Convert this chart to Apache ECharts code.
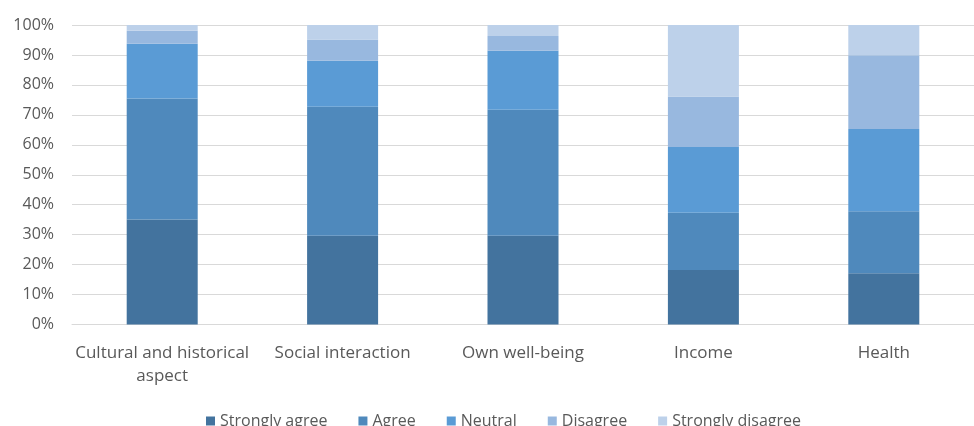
<!DOCTYPE html>
<html>
<head>
<meta charset="utf-8">
<script src="https://cdn.jsdelivr.net/npm/echarts@6/dist/echarts.min.js"></script>
<style>
html,body{margin:0;padding:0;background:#fff;}
#chart{width:974px;height:426px;}
</style>
</head>
<body>
<div id="chart"></div>
<script>
const categories = ['Cultural and historical\naspect', 'Social interaction', 'Own well-being', 'Income', 'Health'];
const seriesNames = ['Strongly agree', 'Agree', 'Neutral', 'Disagree', 'Strongly disagree'];
const stronglyAgree = [35.1, 29.6, 29.6, 18.2, 17.1];
const agree = [40.4, 43.1, 42.1, 19.1, 20.7];
const neutral = [18.2, 15.4, 19.7, 22.0, 27.5];
const disagree = [4.4, 7.1, 4.9, 16.8, 24.6];
const stronglyDisagree = [1.9, 4.8, 3.7, 23.9, 10.1];
const yTicks = [0, 10, 20, 30, 40, 50, 60, 70, 80, 90, 100];

const colors = ['#43739E', '#4F89BC', '#5A9BD5', '#98B8DF', '#BDD1EA'];
const values = [stronglyAgree, agree, neutral, disagree, stronglyDisagree];
const font = '"Open Sans", sans-serif';

const chart = echarts.init(document.getElementById('chart'), null, {renderer: 'canvas'});
chart.setOption({
  animation: false,
  color: colors,
  grid: {left: 72, top: 25, width: 909, bottom: 101.5, containLabel: false},
  legend: {
    left: 201, top: 408,
    itemWidth: 9, itemHeight: 9, itemGap: 31,
    icon: 'rect',
    textStyle: {fontFamily: font, fontSize: 16, color: '#595959', padding: [0, 0, 0, 0]},
    data: seriesNames
  },
  xAxis: {
    type: 'category',
    data: categories,
    axisLine: {lineStyle: {color: '#d9d9d9'}},
    axisTick: {show: false},
    axisLabel: {fontFamily: font, fontSize: 17, color: '#595959', margin: 17, lineHeight: 23, interval: 0}
  },
  yAxis: {
    type: 'value',
    min: yTicks[0], max: yTicks[yTicks.length - 1], interval: 10,
    axisLine: {show: false},
    axisTick: {show: false},
    splitLine: {lineStyle: {color: '#d9d9d9', width: 1}},
    axisLabel: {fontFamily: font, fontSize: 16, color: '#595959', margin: 18, formatter: '{value}%'}
  },
  series: seriesNames.map((n, i) => ({
    name: n,
    type: 'bar',
    stack: 'total',
    barWidth: 71,
    data: values[i],
    itemStyle: {color: colors[i]}
  }))
});
</script>
</body>
</html>
